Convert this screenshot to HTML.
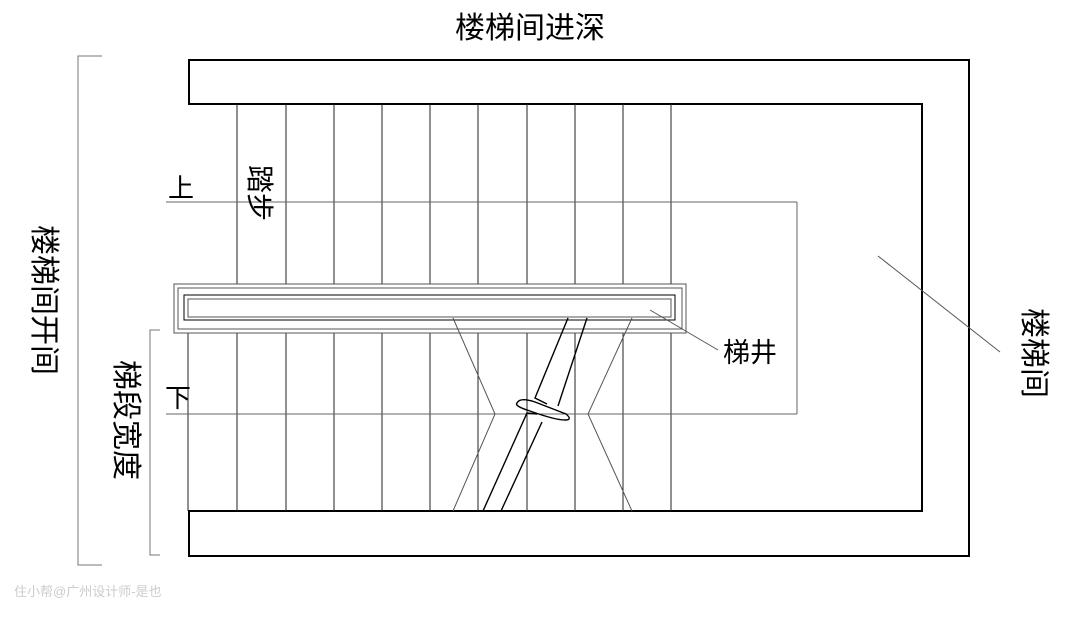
<!DOCTYPE html>
<html><head><meta charset="utf-8"><style>
body{margin:0;width:1080px;height:617px;background:#fff;position:relative;overflow:hidden;font-family:"Liberation Sans","Noto Sans CJK SC",sans-serif;}
.t{position:absolute;color:#000;font-size:28px;line-height:1;}
.v{writing-mode:vertical-rl;text-orientation:sideways;}
</style></head><body>
<svg width="1080" height="617" style="position:absolute;left:0;top:0">
<g fill="none" stroke="#000" stroke-width="2">
<path d="M189,60 H969 V556 H189 V511 H922 V104 H189 Z"/>
</g>
<g stroke="#222" stroke-width="1">
<line x1="237" y1="104" x2="237" y2="511"/><line x1="286" y1="104" x2="286" y2="511"/>
<line x1="334" y1="104" x2="334" y2="511"/><line x1="382" y1="104" x2="382" y2="511"/>
<line x1="430" y1="104" x2="430" y2="511"/><line x1="478" y1="104" x2="478" y2="511"/>
<line x1="527" y1="104" x2="527" y2="511"/><line x1="575" y1="104" x2="575" y2="511"/>
<line x1="623" y1="104" x2="623" y2="511"/><line x1="671" y1="104" x2="671" y2="511"/>
<line x1="188" y1="300" x2="188" y2="511"/>
<line x1="166" y1="202" x2="797" y2="202" stroke="#666"/>
<line x1="166" y1="414" x2="797" y2="414" stroke="#666"/>
<line x1="797" y1="202" x2="797" y2="414" stroke="#666"/>
</g>
<g fill="#fff" stroke="#555" stroke-width="1">
<rect x="174" y="284" width="512" height="49"/>
<rect x="178" y="288" width="504" height="41"/>
<rect x="184" y="295" width="491" height="25" stroke="#000"/>
<rect x="188" y="299" width="483" height="18"/>
</g>
<g fill="none" stroke="#555" stroke-width="1">
<polyline points="453,318 495,414 453,511"/>
<polyline points="632,318 588,414 632,511"/>
<line x1="650" y1="310" x2="718" y2="350"/>
<line x1="878" y1="256" x2="1000" y2="352"/>
</g>
<g fill="none" stroke="#000" stroke-width="1.4">
<path d="M568,318 L535,398 L547,404"/>
<path d="M587,318 L558,406"/>
<path d="M483,511 L527,413 L537,414"/>
<path d="M501,511 L542,422"/>
<path d="M517,403 Q520,397 535,402 L566,414 Q573,420 565,420 Q555,420 530,411 Q514,406 517,403 Z"/>
</g>
<g fill="none" stroke="#777" stroke-width="1">
<polyline points="102,56 78,56 78,565 102,565"/>
<polyline points="160,330 150,330 150,555 160,555"/>
</g>
</svg>
<div class="t" style="left:455px;top:14px;font-size:30px">楼梯间进深</div>
<div class="t v" style="left:28px;top:225px;font-size:30px">楼梯间开间</div>
<div class="t v" style="left:110px;top:360px;font-size:30px">梯段宽度</div>
<div class="t v" style="left:1018px;top:308px;font-size:30px">楼梯间</div>
<div class="t v" style="left:245px;top:165px;font-size:28px">踏步</div>
<div class="t" style="left:168px;top:175px;font-size:26px">上</div>
<div class="t" style="left:165px;top:385px;font-size:26px">下</div>
<div class="t" style="left:723px;top:340px;font-size:27px">梯井</div>
<div class="t" style="left:14px;top:585px;font-size:13px;color:#ccc">住小帮@广州设计师-是也</div>
</body></html>
